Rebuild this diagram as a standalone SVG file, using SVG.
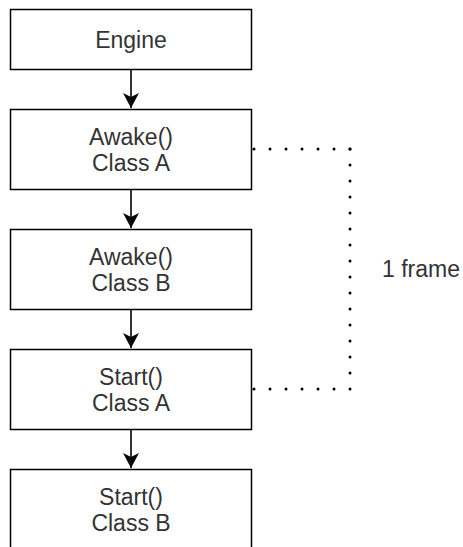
<svg xmlns="http://www.w3.org/2000/svg" width="463" height="547" viewBox="0 0 463 547">
  <style>
    .box { fill: #ffffff; stroke: #000000; stroke-width: 1.5; }
    .label { font-family: "Liberation Sans", Arial, sans-serif; font-size: 23px; fill: #333333; text-anchor: middle; }
    .flow { fill: none; stroke: #000000; stroke-width: 1.6; }
    .dotted { fill: none; stroke: #000000; stroke-width: 3; stroke-dasharray: 0 16; stroke-linecap: round; }
  </style>
  <defs>
    <marker id="arrow" markerUnits="userSpaceOnUse" viewBox="0 0 15 16" refX="15" refY="8" markerWidth="15" markerHeight="16" orient="auto">
      <path d="M15 8 L0 0 L4 8 L0 16 Z" fill="#000000"/>
    </marker>
  </defs>
  <rect width="463" height="547" fill="#ffffff"/>

  <!-- connectors -->
  <g id="connectors">
    <line class="flow" x1="131" y1="69.5" x2="131" y2="108" marker-end="url(#arrow)"/>
    <line class="flow" x1="131" y1="189.5" x2="131" y2="228" marker-end="url(#arrow)"/>
    <line class="flow" x1="131" y1="309.5" x2="131" y2="348" marker-end="url(#arrow)"/>
    <line class="flow" x1="131" y1="429.5" x2="131" y2="468" marker-end="url(#arrow)"/>
    <path class="dotted" d="M350 149 H252"/>
    <path class="dotted" d="M350 149 V389"/>
    <path class="dotted" d="M350 389 H252"/>
  </g>

  <g id="engine">
    <rect class="box" x="10.5" y="9.5" width="241" height="60"/>
    <text class="label" x="131" y="47.5">Engine</text>
  </g>

  <g id="awake-a">
    <rect class="box" x="10.5" y="109.5" width="241" height="80"/>
    <text class="label" x="131" y="144.5">Awake()</text>
    <text class="label" x="131" y="171">Class A</text>
  </g>

  <g id="awake-b">
    <rect class="box" x="10.5" y="229.5" width="241" height="80"/>
    <text class="label" x="131" y="264.5">Awake()</text>
    <text class="label" x="131" y="291">Class B</text>
  </g>

  <g id="start-a">
    <rect class="box" x="10.5" y="349.5" width="241" height="80"/>
    <text class="label" x="131" y="384.5">Start()</text>
    <text class="label" x="131" y="411">Class A</text>
  </g>

  <g id="start-b">
    <rect class="box" x="10.5" y="469.5" width="241" height="80"/>
    <text class="label" x="131" y="504.5">Start()</text>
    <text class="label" x="131" y="531">Class B</text>
  </g>

  <g id="frame-label">
    <text class="label" x="382" y="277" style="text-anchor: start;">1 frame</text>
  </g>
</svg>
